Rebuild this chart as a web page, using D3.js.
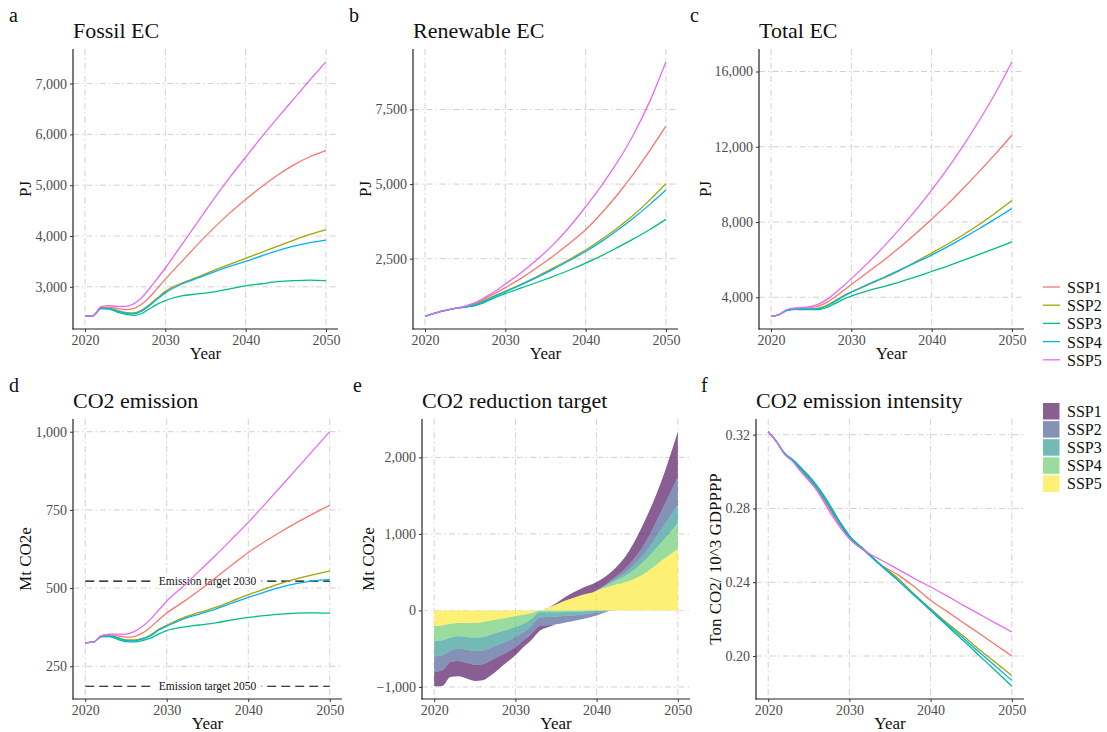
<!DOCTYPE html>
<html>
<head>
<meta charset="utf-8">
<script src="https://cdn.jsdelivr.net/npm/d3@7"></script>
<style>
  body { margin: 0; background: #fff; }
  text { font-family: "Liberation Serif", "Times New Roman", serif; }
</style>
</head>
<body>
<svg id="fig" width="1107" height="732"></svg>
<script>
// ---- data ----
const scenarios = ["SSP1", "SSP2", "SSP3", "SSP4", "SSP5"];
const years = [2020, 2021, 2022, 2023, 2024, 2025, 2026, 2027, 2028, 2029, 2030,
               2032, 2034, 2036, 2038, 2040, 2042, 2044, 2046, 2048, 2050];
const yearTicks = [2020, 2030, 2040, 2050];

// panel a, PJ (rows follow scenarios)
const fossilEC = [
  [2420, 2430, 2590, 2600, 2575, 2550, 2570, 2650, 2790, 2970, 3150, 3490, 3830, 4150, 4450, 4720, 4970, 5200, 5400, 5560, 5680],
  [2420, 2430, 2585, 2582, 2536, 2497, 2484, 2536, 2647, 2780, 2910, 3070, 3190, 3320, 3440, 3560, 3680, 3800, 3920, 4030, 4120],
  [2420, 2430, 2570, 2562, 2503, 2464, 2438, 2470, 2562, 2660, 2730, 2820, 2860, 2900, 2960, 3020, 3060, 3100, 3120, 3130, 3120],
  [2420, 2430, 2575, 2570, 2523, 2484, 2468, 2516, 2627, 2758, 2880, 3050, 3170, 3290, 3400, 3500, 3610, 3710, 3800, 3870, 3920],
  [2420, 2430, 2610, 2630, 2615, 2615, 2660, 2780, 2960, 3160, 3370, 3820, 4270, 4720, 5150, 5550, 5950, 6330, 6700, 7070, 7430]
];
const fossilTicks = [3000, 4000, 5000, 6000, 7000];

// panel b, PJ
const renewableEC = [
  [570, 655, 740, 800, 850, 900, 975, 1090, 1240, 1380, 1530, 1850, 2210, 2600, 3020, 3470, 4030, 4660, 5360, 6130, 6940],
  [570, 655, 735, 790, 840, 885, 950, 1050, 1180, 1300, 1410, 1650, 1910, 2190, 2480, 2790, 3150, 3540, 3970, 4470, 5020],
  [570, 655, 735, 790, 840, 880, 910, 990, 1110, 1230, 1330, 1520, 1710, 1910, 2120, 2350, 2600, 2880, 3170, 3480, 3820],
  [570, 655, 735, 790, 840, 880, 930, 1020, 1150, 1280, 1390, 1630, 1880, 2150, 2440, 2740, 3080, 3460, 3870, 4320, 4800],
  [570, 655, 740, 800, 850, 910, 1000, 1130, 1290, 1460, 1650, 2040, 2480, 2980, 3570, 4240, 4960, 5760, 6680, 7780, 9100]
];
const renewableTicks = [2500, 5000, 7500];

// panel c, PJ
const totalEC = [
  [2990, 3080, 3330, 3400, 3425, 3450, 3545, 3740, 4030, 4350, 4680, 5320, 5950, 6650, 7380, 8150, 8950, 9820, 10720, 11650, 12620],
  [2990, 3080, 3320, 3372, 3376, 3382, 3434, 3586, 3827, 4080, 4280, 4650, 5010, 5420, 5880, 6350, 6830, 7340, 7890, 8500, 9140],
  [2990, 3080, 3305, 3352, 3343, 3344, 3348, 3460, 3672, 3890, 4060, 4340, 4570, 4810, 5080, 5370, 5660, 5980, 6290, 6610, 6940],
  [2990, 3080, 3310, 3360, 3363, 3364, 3398, 3536, 3777, 4038, 4270, 4680, 5050, 5440, 5840, 6240, 6690, 7170, 7670, 8190, 8720],
  [2990, 3080, 3350, 3430, 3460, 3520, 3650, 3900, 4230, 4600, 4990, 5800, 6680, 7620, 8620, 9700, 10850, 12100, 13450, 14900, 16520]
];
const totalTicks = [4000, 8000, 12000, 16000];

// panel d, Mt CO2e
const co2Emission = [
  [325, 327, 348, 351, 347, 343, 345, 356, 375, 398, 420, 455, 493, 533, 574, 614, 648, 680, 710, 738, 765],
  [325, 327, 346, 347, 342, 334, 334, 339, 350, 368, 381, 405, 422, 438, 458, 479, 497, 515, 530, 543, 555],
  [325, 327, 345, 345, 336, 329, 328, 332, 340, 353, 364, 375, 382, 389, 398, 406, 412, 417, 420, 421, 420],
  [325, 327, 345, 346, 340, 332, 331, 337, 347, 365, 378, 401, 417, 433, 452, 470, 487, 503, 515, 523, 528],
  [325, 327, 348, 353, 353, 353, 361, 377, 400, 429, 458, 505, 555, 605, 657, 710, 767, 825, 883, 942, 1000]
];
const emissionTicks = [250, 500, 750, 1000];
const targetValues = [522, 186];
const targetLabels = ["Emission target 2030", "Emission target 2050"];

// panel e, Mt CO2e (stacked areas)
const yearsE = [2020, 2021, 2022, 2023, 2024, 2025, 2026, 2027, 2028, 2029, 2030, 2031, 2032,
                2033, 2034, 2035, 2036, 2038, 2040, 2042, 2044, 2046, 2048, 2050];
const reduction = [
  [-187, -204, -196, -200, -204, -213, -209, -196, -161, -131, -109, -87, -79, -60, -25, 15, 45, 85, 109, 109, 180, 300, 392, 596],
  [-204, -196, -152, -161, -174, -179, -182, -165, -157, -143, -130, -108, -108, -115, -110, -100, -90, -65, -35, 22, 65, 130, 239, 361],
  [-200, -196, -165, -161, -165, -173, -174, -174, -160, -148, -131, -109, -87, -70, -60, -55, -50, -40, -25, 21, 50, 95, 174, 239],
  [-196, -195, -183, -174, -183, -192, -196, -183, -170, -156, -143, -117, -74, -20, -25, -25, -22, -15, -5, 44, 100, 170, 239, 335],
  [-204, -196, -174, -165, -165, -165, -152, -130, -113, -96, -74, -57, -35, 0, 35, 78, 122, 196, 261, 326, 383, 490, 652, 804]
];
const reductionTicks = [-1000, 0, 1000, 2000];

// panel f, Ton CO2 / 10^3 GDPPPP
const intensity = [
  [0.3216, 0.3164, 0.3098, 0.3060, 0.3008, 0.2958, 0.2905, 0.2835, 0.2765, 0.2700, 0.2640, 0.2565, 0.2490, 0.2440, 0.2375, 0.2302, 0.2242, 0.2182, 0.2122, 0.2061, 0.2000],
  [0.3216, 0.3164, 0.3100, 0.3062, 0.3015, 0.2970, 0.2915, 0.2850, 0.2780, 0.2712, 0.2650, 0.2570, 0.2490, 0.2420, 0.2335, 0.2256, 0.2180, 0.2110, 0.2035, 0.1965, 0.1895],
  [0.3216, 0.3164, 0.3100, 0.3065, 0.3023, 0.2978, 0.2924, 0.2861, 0.2789, 0.2716, 0.2653, 0.2570, 0.2488, 0.2410, 0.2328, 0.2247, 0.2165, 0.2085, 0.2002, 0.1920, 0.1836],
  [0.3216, 0.3164, 0.3098, 0.3060, 0.3012, 0.2965, 0.2910, 0.2845, 0.2775, 0.2706, 0.2645, 0.2565, 0.2485, 0.2410, 0.2330, 0.2250, 0.2172, 0.2098, 0.2020, 0.1945, 0.1868],
  [0.3216, 0.3164, 0.3095, 0.3055, 0.3001, 0.2951, 0.2897, 0.2825, 0.2753, 0.2689, 0.2635, 0.2568, 0.2518, 0.2470, 0.2420, 0.2374, 0.2326, 0.2276, 0.2227, 0.2178, 0.2130]
];
const intensityTicks = [0.20, 0.24, 0.28, 0.32];

const lineColors = ["#F8766D", "#A3A500", "#00BF7D", "#00B0F6", "#E76BF3"];
const fillColors = ["#440154", "#3B528B", "#21908C", "#5DC863", "#FDE725"];

// ---- drawing ----
const svg = d3.select("#fig");
svg.append("rect").attr("width", 1107).attr("height", 732).attr("fill", "#fff");

const fmtComma = d3.format(",");

function panel(p) {
    const g = svg.append("g");
    const x = d3.scaleLinear().domain([2018.5, 2051.5]).range([p.left, p.right]);
    const pad = (p.max - p.min) * 0.05;
    const y = d3.scaleLinear().domain([p.min - pad, p.max + pad]).range([p.bottom, p.top]);

    // dot-dash grid at major breaks
    g.selectAll(".gx").data(yearTicks).join("line")
        .attr("x1", d => x(d)).attr("x2", d => x(d))
        .attr("y1", p.top).attr("y2", p.bottom)
        .attr("stroke", "#d0d0d0").attr("stroke-width", 1)
        .attr("stroke-dasharray", "6,3,1.5,3");
    g.selectAll(".gy").data(p.ticks).join("line")
        .attr("x1", p.left).attr("x2", p.right)
        .attr("y1", d => y(d)).attr("y2", d => y(d))
        .attr("stroke", "#d0d0d0").attr("stroke-width", 1)
        .attr("stroke-dasharray", "6,3,1.5,3");

    const gx = g.append("g")
        .attr("transform", "translate(0," + p.bottom + ")")
        .call(d3.axisBottom(x).tickValues(yearTicks).tickFormat(d3.format("d")).tickSize(3).tickSizeOuter(0));
    const gy = g.append("g")
        .attr("transform", "translate(" + p.left + ",0)")
        .call(d3.axisLeft(y).tickValues(p.ticks).tickFormat(p.format || fmtComma).tickSize(3).tickSizeOuter(0));
    [gx, gy].forEach(a => {
        a.select(".domain").attr("stroke", "#222").attr("stroke-width", 1.2);
        a.selectAll(".tick line").attr("stroke", "#333");
        a.selectAll(".tick text").attr("fill", "#4d4d4d")
            .style("font-size", "14px").style("font-family", "Liberation Serif");
    });
    // axis lines reach the full panel
    gx.select(".domain").attr("d", "M" + (p.left - 0.6) + ",0H" + p.right);
    gy.select(".domain").attr("d", "M0," + p.top + "V" + (p.bottom + 0.6));

    svg.append("text").attr("x", p.letterX).attr("y", p.top - 27)
        .style("font-size", "20px").attr("fill", "#111").text(p.letter);
    svg.append("text").attr("x", p.left).attr("y", p.top - 11)
        .style("font-size", "22px").attr("fill", "#111").text(p.title);
    svg.append("text").attr("x", (p.left + p.right) / 2).attr("y", p.bottom + 30)
        .attr("text-anchor", "middle").style("font-size", "17px").attr("fill", "#111").text("Year");
    svg.append("text")
        .attr("transform", "translate(" + p.ylabX + "," + ((p.top + p.bottom) / 2) + ") rotate(-90)")
        .attr("text-anchor", "middle").style("font-size", "17px").attr("fill", "#111").text(p.ylabel);
    return { g, x, y };
}

function linePanel(p, data) {
    const all = data.flat().concat(p.extra || []);
    p.min = d3.min(all);
    p.max = d3.max(all);
    const s = panel(p);
    const line = d3.line()
        .x((d, i) => s.x(years[i]))
        .y(d => s.y(d))
        .curve(d3.curveMonotoneX);
    if (p.before) p.before(s);
    s.g.selectAll(".series").data(data).join("path")
        .attr("fill", "none")
        .attr("stroke", (d, i) => lineColors[i])
        .attr("stroke-width", 1.3)
        .attr("d", line);
    return s;
}

linePanel({ left: 73, right: 338, top: 49, bottom: 329, letter: "a", letterX: 9, title: "Fossil EC",
    ylabel: "PJ", ylabX: 31, ticks: fossilTicks }, fossilEC);
linePanel({ left: 413, right: 678, top: 49, bottom: 329, letter: "b", letterX: 349, title: "Renewable EC",
    ylabel: "PJ", ylabX: 371, ticks: renewableTicks }, renewableEC);
linePanel({ left: 759, right: 1024, top: 49, bottom: 329, letter: "c", letterX: 690, title: "Total EC",
    ylabel: "PJ", ylabX: 711, ticks: totalTicks }, totalEC);

linePanel({ left: 73, right: 342, top: 419, bottom: 699, letter: "d", letterX: 9, title: "CO2 emission",
    ylabel: "Mt CO2e", ylabX: 31, ticks: emissionTicks, extra: targetValues,
    before: s => {
        targetValues.forEach((v, i) => {
            s.g.append("line")
                .attr("x1", s.x(2020)).attr("x2", s.x(2050))
                .attr("y1", s.y(v)).attr("y2", s.y(v))
                .attr("stroke", "#000").attr("stroke-width", 1.2)
                .attr("stroke-dasharray", "9,5");
            const t = s.g.append("text")
                .attr("x", s.x(2035)).attr("y", s.y(v) + 4)
                .attr("text-anchor", "middle").style("font-size", "11.5px").attr("fill", "#111")
                .text(targetLabels[i]);
            const bb = t.node().getBBox();
            s.g.insert("rect", () => t.node())
                .attr("x", bb.x - 5).attr("y", bb.y).attr("width", bb.width + 10).attr("height", bb.height)
                .attr("fill", "#fff");
        });
    } }, co2Emission);

// panel e: positive and negative parts stacked separately, SSP5 nearest to zero
(function () {
    const keys = scenarios.slice().reverse();
    const rowsOf = (sign) => yearsE.map((yr, j) => {
        const r = { year: yr };
        scenarios.forEach((k, i) => {
            const v = reduction[i][j];
            r[k] = sign > 0 ? Math.max(v, 0) : Math.min(v, 0);
        });
        return r;
    });
    const stack = d3.stack().keys(keys);
    const upper = stack(rowsOf(1));
    const lower = stack(rowsOf(-1));
    const p = { left: 422, right: 690, top: 419, bottom: 699, letter: "e", letterX: 353,
        title: "CO2 reduction target", ylabel: "Mt CO2e", ylabX: 374, ticks: reductionTicks };
    p.min = d3.min(lower, s => d3.min(s, d => d[1]));
    p.max = d3.max(upper, s => d3.max(s, d => d[1]));
    const s = panel(p);
    const area = d3.area()
        .x(d => s.x(d.data.year))
        .y0(d => s.y(d[0]))
        .y1(d => s.y(d[1]))
        .curve(d3.curveMonotoneX);
    s.g.selectAll(".band").data(upper.concat(lower)).join("path")
        .attr("fill", d => fillColors[scenarios.indexOf(d.key)])
        .attr("fill-opacity", 0.63)
        .attr("d", area);
    // faint zero line across the areas
    s.g.append("line")
        .attr("x1", p.left).attr("x2", p.right).attr("y1", s.y(0)).attr("y2", s.y(0))
        .attr("stroke", "#fff").attr("stroke-opacity", 0.35).attr("stroke-dasharray", "6,3,1.5,3");
})();

linePanel({ left: 756, right: 1024, top: 419, bottom: 699, letter: "f", letterX: 701, title: "CO2 emission intensity",
    ylabel: "Ton CO2/ 10^3 GDPPPP", ylabX: 721, ticks: intensityTicks, format: d3.format(".2f") }, intensity);

// legends
const lg1 = svg.append("g").attr("transform", "translate(1043,287)");
scenarios.forEach((k, i) => {
    lg1.append("line").attr("x1", 0).attr("x2", 17).attr("y1", i * 18.2).attr("y2", i * 18.2)
        .attr("stroke", lineColors[i]).attr("stroke-width", 1.3);
    lg1.append("text").attr("x", 24).attr("y", i * 18.2 + 6)
        .style("font-size", "16px").attr("fill", "#111").text(k);
});
const lg2 = svg.append("g").attr("transform", "translate(1043,411)");
scenarios.forEach((k, i) => {
    lg2.append("rect").attr("x", 0).attr("y", i * 18.1 - 8).attr("width", 16.5).attr("height", 16.5)
        .attr("fill", fillColors[i]).attr("fill-opacity", 0.63);
    lg2.append("text").attr("x", 24).attr("y", i * 18.1 + 6)
        .style("font-size", "16px").attr("fill", "#111").text(k);
});
</script>
</body>
</html>
